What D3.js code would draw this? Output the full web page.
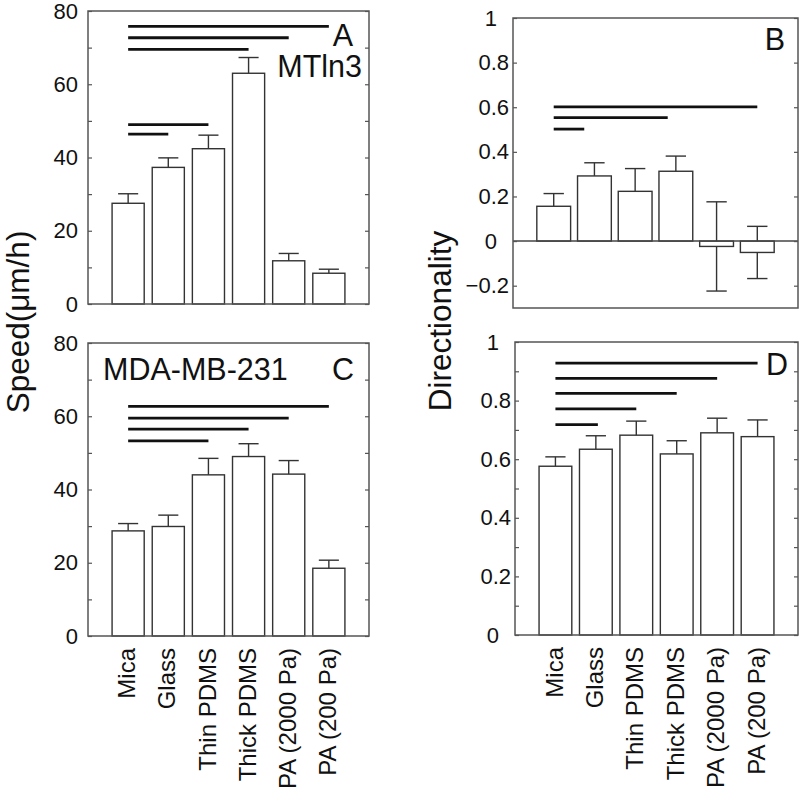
<!DOCTYPE html>
<html>
<head>
<meta charset="utf-8">
<script src="https://cdn.jsdelivr.net/npm/d3@7"></script>
<style>
  html, body { margin: 0; padding: 0; background: #fff; }
  svg { display: block; }
  text { font-family: "Liberation Sans", Arial, sans-serif; fill: #111; }
</style>
</head>
<body>
<svg id="chart" width="800" height="788"></svg>
<script>
// ---- data ----
const categories = ["Mica", "Glass", "Thin PDMS", "Thick PDMS", "PA (2000 Pa)", "PA (200 Pa)"];

const speedMTln3    = [27.5, 37.3, 42.4, 63.0, 11.8, 8.4];
const speedMTln3Err = [2.6, 2.6, 3.7, 4.3, 2.0, 1.1];

const dirMTln3      = [0.156, 0.292, 0.223, 0.313, -0.024, -0.051];
const dirMTln3Err   = [0.057, 0.059, 0.102, 0.068, 0.200, 0.117];

const speedMDA      = [28.7, 29.9, 44.0, 49.0, 44.2, 18.5];
const speedMDAErr   = [2.0, 3.1, 4.5, 3.5, 3.7, 2.2];

const dirMDA        = [0.576, 0.634, 0.682, 0.618, 0.690, 0.677];
const dirMDAErr     = [0.032, 0.046, 0.048, 0.045, 0.050, 0.057];

// significance bars: [y level, from category position, to category position]
const sigA = [[75.8, 1, 6], [72.7, 1, 5], [69.5, 1, 4], [49.0, 1, 3], [46.4, 1, 2]];
const sigB = [[0.602, 1, 6], [0.553, 1, 3.8], [0.502, 1, 1.75]];
const sigC = [[62.7, 1, 6], [59.5, 1, 5], [56.5, 1, 4], [53.3, 1, 3]];
const sigD = [[0.928, 1, 6], [0.876, 1, 5], [0.825, 1, 4], [0.772, 1, 3], [0.718, 1, 2.05]];

const speedTicks = d3.range(0, 9).map(i => i * 10);
const dirTicksB  = [-0.2, 0, 0.2, 0.4, 0.6, 0.8, 1];
const dirTicksD  = d3.range(0, 11).map(i => i / 10);

const yLabelSpeed = "Speed(μm/h)";
const yLabelDir = "Directionality";

// ---- layout ----
const panels = [
  { vals: speedMTln3, errs: speedMTln3Err, sig: sigA, l: 88, r: 369, t: 11, b: 304,
    dom: [0, 80], ticks: speedTicks, lab: d => d % 20 === 0 ? String(d) : "", pad: 10,
    texts: [{ s: "A", x: 353, y: 46, a: "end" }, { s: "MTln3", x: 362, y: 77, a: "end" }],
    xlabels: false, zero: false, bw: 0.8 },
  { vals: dirMTln3, errs: dirMTln3Err, sig: sigB, l: 513, r: 798, t: 18, b: 308,
    dom: [-0.3, 1], ticks: dirTicksB, lab: d => (d === 0 || d === 1) ? String(d) : d3.format(".1f")(d), pad: 4,
    texts: [{ s: "B", x: 785, y: 50, a: "end" }],
    xlabels: false, zero: true, bw: 0.83 },
  { vals: speedMDA, errs: speedMDAErr, sig: sigC, l: 88, r: 369, t: 343, b: 636,
    dom: [0, 80], ticks: speedTicks, lab: d => d % 20 === 0 ? String(d) : "", pad: 10,
    texts: [{ s: "C", x: 354, y: 380, a: "end" }, { s: "MDA-MB-231", x: 103, y: 380, a: "start" }],
    xlabels: true, zero: false, bw: 0.8 },
  { vals: dirMDA, errs: dirMDAErr, sig: sigD, l: 515, r: 798, t: 342, b: 635,
    dom: [0, 1], ticks: dirTicksD, lab: d => { const k = Math.round(d * 10); return k % 2 === 0 ? ((k === 0 || k === 10) ? String(k / 10) : d3.format(".1f")(d)) : ""; }, pad: 4,
    texts: [{ s: "D", x: 788, y: 375, a: "end" }],
    xlabels: true, zero: false, bw: 0.81 }
];

const svg = d3.select("#chart");
svg.append("rect").attr("width", 800).attr("height", 788).attr("fill", "#fff");

panels.forEach(p => {
  const x = d3.scaleLinear().domain([0, categories.length + 1]).range([p.l, p.r]);
  const y = d3.scaleLinear().domain(p.dom).range([p.b, p.t]);
  const unit = x(1) - x(0);
  const g = svg.append("g");

  // error bars (drawn first so bars hide the inner half)
  const eg = g.append("g").attr("stroke", "#333").attr("stroke-width", 1.4).attr("fill", "none");
  p.vals.forEach((v, i) => {
    const cx = x(i + 1), e = p.errs[i], cw = unit * 0.25;
    eg.append("line").attr("x1", cx).attr("x2", cx).attr("y1", y(v - e)).attr("y2", y(v + e));
    eg.append("line").attr("x1", cx - cw).attr("x2", cx + cw).attr("y1", y(v + e)).attr("y2", y(v + e));
    eg.append("line").attr("x1", cx - cw).attr("x2", cx + cw).attr("y1", y(v - e)).attr("y2", y(v - e));
  });

  // bars
  g.append("g").selectAll("rect").data(p.vals).join("rect")
    .attr("x", (v, i) => x(i + 1) - unit * p.bw / 2)
    .attr("width", unit * p.bw)
    .attr("y", v => y(Math.max(v, 0)))
    .attr("height", v => Math.abs(y(v) - y(0)))
    .attr("fill", "#fff").attr("stroke", "#333").attr("stroke-width", 1.4);

  // zero line
  if (p.zero) {
    g.append("line").attr("x1", p.l).attr("x2", p.r).attr("y1", y(0)).attr("y2", y(0))
      .attr("stroke", "#444").attr("stroke-width", 1.5);
  }

  // significance lines
  g.append("g").selectAll("line").data(p.sig).join("line")
    .attr("x1", d => x(d[1])).attr("x2", d => x(d[2]))
    .attr("y1", d => y(d[0])).attr("y2", d => y(d[0]))
    .attr("stroke", "#111").attr("stroke-width", 2.8);

  // axes
  const left = g.append("g").attr("transform", `translate(${p.l},0)`)
    .call(d3.axisLeft(y).tickValues(p.ticks).tickSize(-4).tickPadding(p.pad).tickFormat(p.lab));
  const right = g.append("g").attr("transform", `translate(${p.r},0)`)
    .call(d3.axisRight(y).tickValues(p.ticks).tickSize(-4).tickFormat(""));
  [left, right].forEach(a => {
    a.select(".domain").remove();
    a.selectAll(".tick line").attr("stroke", "#555").attr("stroke-width", 1.2);
  });
  left.selectAll(".tick text")
    .attr("font-size", 22)
    .attr("font-family", '"Liberation Sans", Arial, sans-serif')
    .attr("fill", "#111")
    .attr("dx", d => (p.pad < 10 && (d === 0 || d === 1)) ? -12 : 0);

  // frame
  g.append("rect").attr("x", p.l).attr("y", p.t).attr("width", p.r - p.l).attr("height", p.b - p.t)
    .attr("fill", "none").attr("stroke", "#555").attr("stroke-width", 1.5);

  // panel texts
  p.texts.forEach(tx => {
    g.append("text").attr("x", tx.x).attr("y", tx.y).attr("text-anchor", tx.a)
      .attr("font-size", 30.5).text(tx.s);
  });

  // category labels
  if (p.xlabels) {
    g.append("g").selectAll("text").data(categories).join("text")
      .attr("transform", (c, i) => `translate(${x(i + 1)},${p.b + 12}) rotate(-90)`)
      .attr("text-anchor", "end").attr("dy", "0.3em")
      .attr("font-size", 24).text(c => c);
  }
});

// y-axis titles
svg.append("text").attr("transform", "translate(29,322) rotate(-90)")
  .attr("text-anchor", "middle").attr("font-size", 31.5).text(yLabelSpeed);
svg.append("text").attr("transform", "translate(451,321) rotate(-90)")
  .attr("text-anchor", "middle").attr("font-size", 31.5).text(yLabelDir);
</script>
</body>
</html>
